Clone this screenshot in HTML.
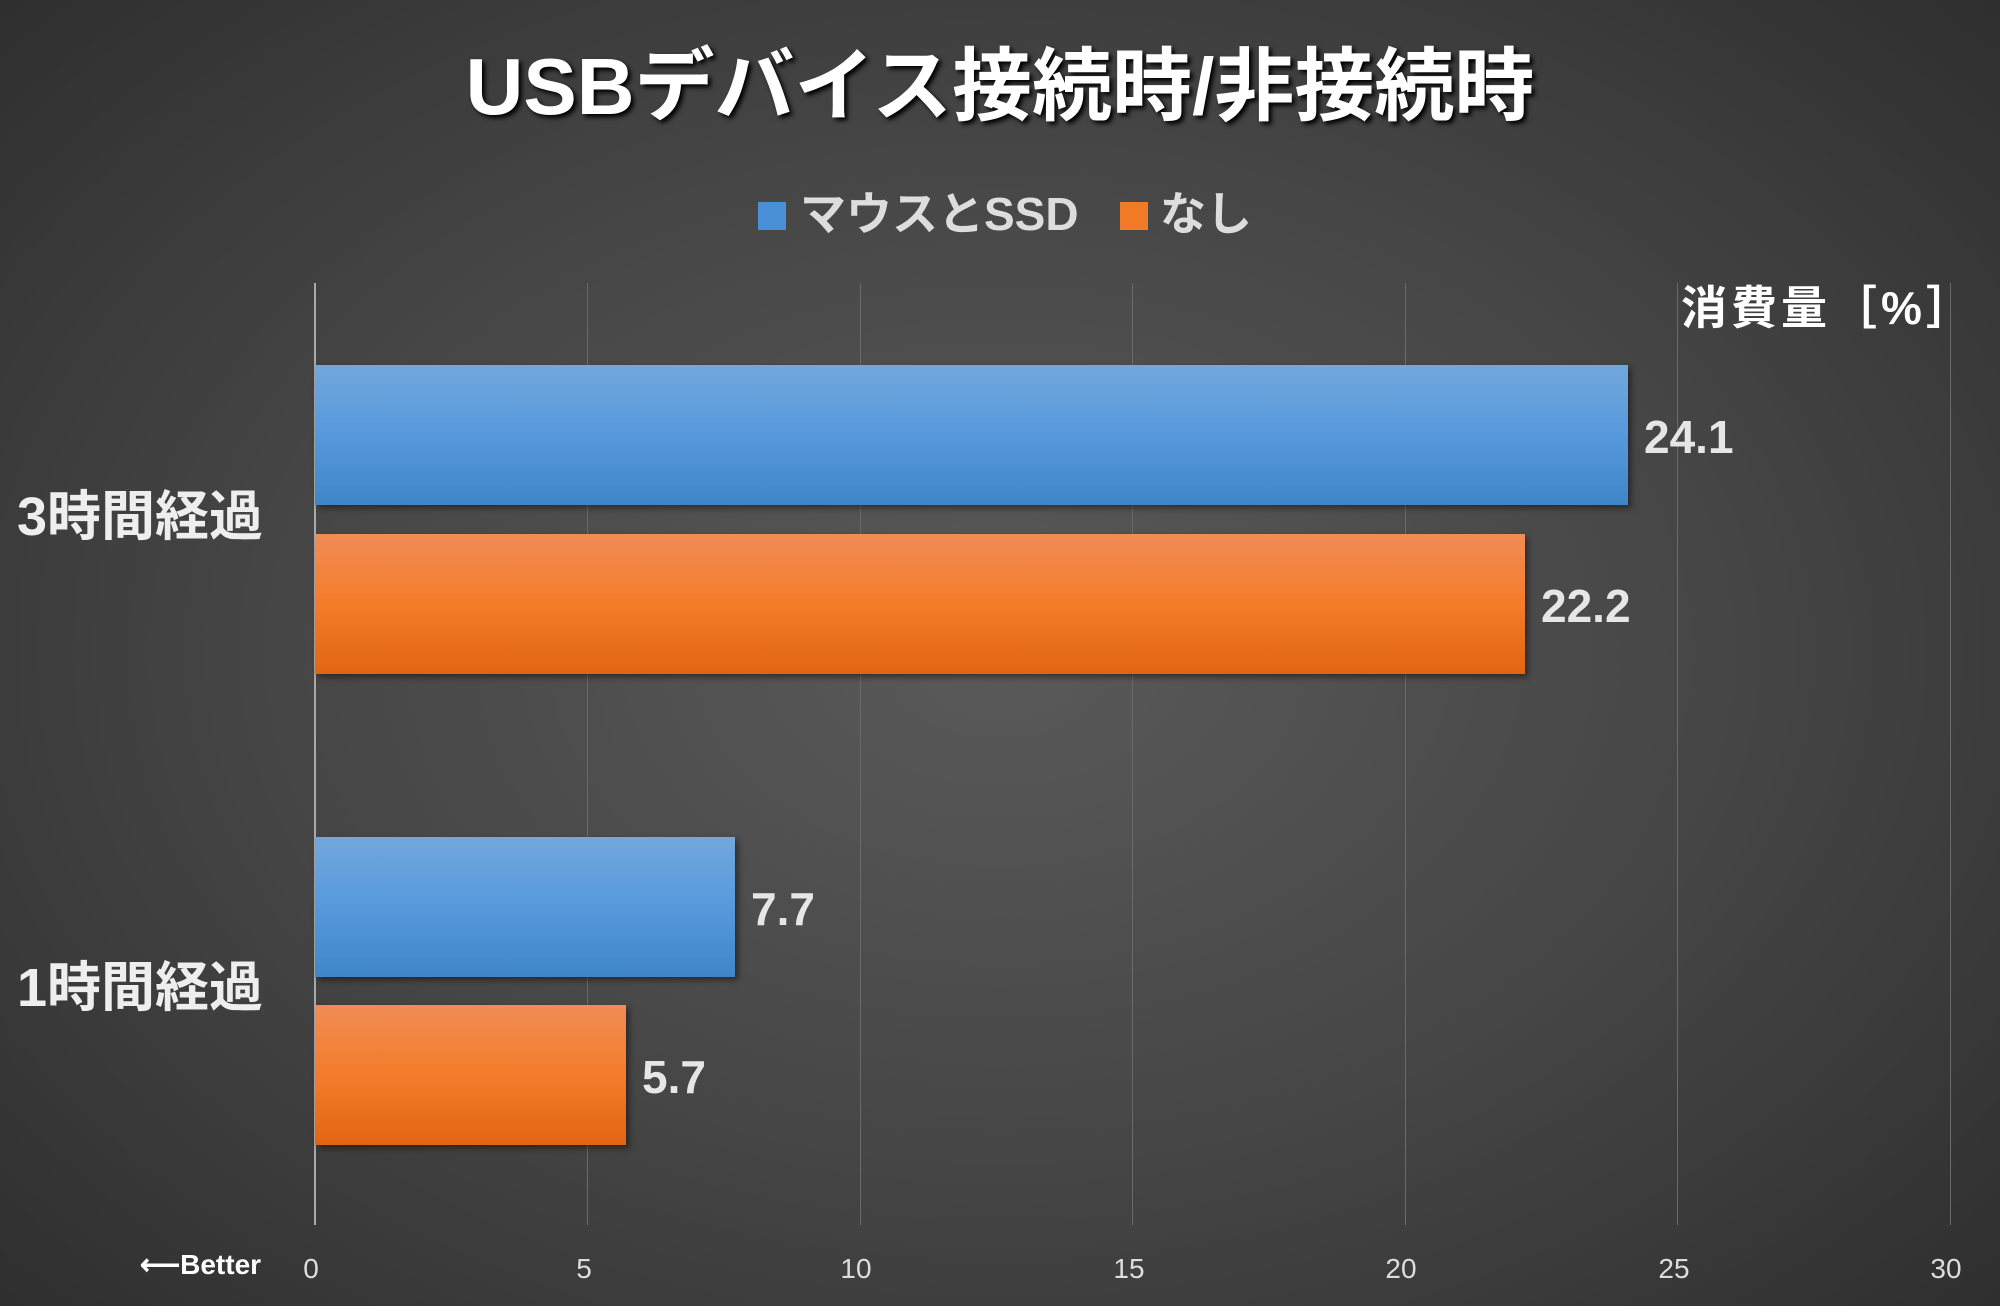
<!DOCTYPE html>
<html><head><meta charset="utf-8"><style>
body{margin:0;width:2000px;height:1306px;overflow:hidden;background:radial-gradient(ellipse 75% 80% at 50% 50%,#5a5a5a 0%,#454545 50%,#2a2a2a 100%);font-family:"Liberation Sans","Noto Sans CJK JP",sans-serif;color:#fff;position:relative}
.a{position:absolute;white-space:nowrap}
.g{position:absolute;top:283px;height:942px;width:1px;background:#6a6a6a}
.bar{position:absolute;left:315px;height:140px;box-shadow:3px 3px 6px rgba(0,0,0,.45)}
.b{background:linear-gradient(#72a7dd,#5699dc 50%,#3f86c8)}
.o{background:linear-gradient(#f18c56,#f47c2a 50%,#e26512)}
.v{font-size:46px;font-weight:bold;color:#e6e6e6;line-height:46px}
.t{font-size:28px;color:#ddd;top:1253px;width:60px;text-align:center}
.c{font-size:54px;font-weight:bold;color:#eee;left:17px;line-height:54px}
</style></head><body>
<div class="a" style="left:0;width:2000px;text-align:center;top:42px;font-size:80px;font-weight:bold;text-shadow:3px 3px 5px #000;line-height:90px">USBデバイス接続時/非接続時</div>
<div class="a" style="left:758px;top:202px;width:28px;height:28px;background:#4a90d6"></div>
<div class="a" style="left:800px;top:186px;font-size:46px;font-weight:bold;color:#ddd;line-height:56px">マウスとSSD</div>
<div class="a" style="left:1120px;top:202px;width:28px;height:28px;background:#f07a26"></div>
<div class="a" style="left:1160px;top:186px;font-size:46px;font-weight:bold;color:#ddd;line-height:56px">なし</div>
<div class="g" style="left:587px"></div><div class="g" style="left:860px"></div><div class="g" style="left:1132px"></div><div class="g" style="left:1405px"></div><div class="g" style="left:1677px"></div><div class="g" style="left:1950px"></div>
<div class="a" style="left:314px;top:283px;width:2px;height:942px;background:#aaa"></div>
<div class="a" style="left:1681px;top:282px;font-size:46px;font-weight:bold;line-height:52px;letter-spacing:4px">消費量［%］</div>
<div class="bar b" style="top:365px;width:1313px"></div>
<div class="bar o" style="top:534px;width:1210px"></div>
<div class="bar b" style="top:837px;width:420px"></div>
<div class="bar o" style="top:1005px;width:311px"></div>
<div class="a v" style="left:1644px;top:414px">24.1</div>
<div class="a v" style="left:1541px;top:583px">22.2</div>
<div class="a v" style="left:751px;top:886px">7.7</div>
<div class="a v" style="left:642px;top:1054px">5.7</div>
<div class="a c" style="top:490px">3時間経過</div>
<div class="a c" style="top:961px">1時間経過</div>
<div class="a" style="left:140px;top:1248px;font-size:28px;font-weight:bold">⟵Better</div>
<div class="a t" style="left:281px">0</div><div class="a t" style="left:554px">5</div><div class="a t" style="left:826px">10</div><div class="a t" style="left:1099px">15</div><div class="a t" style="left:1371px">20</div><div class="a t" style="left:1644px">25</div><div class="a t" style="left:1916px">30</div>
</body></html>
